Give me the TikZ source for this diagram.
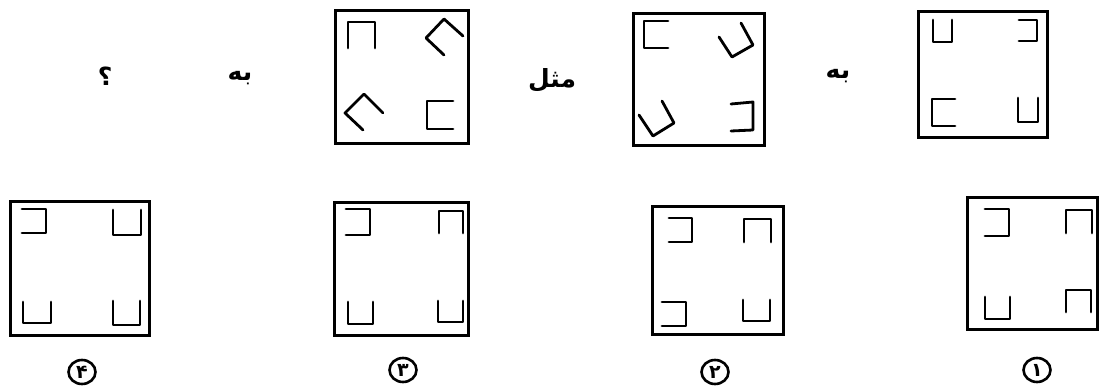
\documentclass[tikz,border=0pt]{standalone}
\usepackage{fontspec}
\usetikzlibrary{shapes.geometric}
\TeXXeTstate=1
\newfontfamily\arabicfont[Script=Arabic]{DejaVu Sans}
\newcommand{\shU}[4]{\draw[glyph] (#1,#2) -- (#1,#4) -- (#3,#4) -- (#3,#2);}
\newcommand{\shN}[4]{\draw[glyph] (#1,#4) -- (#1,#2) -- (#3,#2) -- (#3,#4);}
\newcommand{\shC}[4]{\draw[glyph] (#3,#2) -- (#1,#2) -- (#1,#4) -- (#3,#4);}
\newcommand{\shD}[4]{\draw[glyph] (#1,#2) -- (#3,#2) -- (#3,#4) -- (#1,#4);}
\tikzset{
  frame/.style={draw=black, line width=3pt},
  glyph/.style={draw=black, line width=2.8pt, line cap=round, line join=round},
  word/.style={font=\arabicfont\bfseries\fontsize{25}{28}\selectfont, inner sep=0pt},
  numcirc/.style={draw=black, line width=2.6pt, ellipse, minimum width=27pt, minimum height=24pt, inner sep=0pt, font=\arabicfont\bfseries\fontsize{19}{20}\selectfont}
}
\begin{document}
\begin{tikzpicture}[x=1pt,y=-1pt]
\useasboundingbox (0,0) rectangle (1100,387);
% ---- top row ----
% box A
\draw[frame] (918,12) rectangle (1047,138);
\shU{933}{20}{952}{42}
\shD{1019}{20}{1037}{41}
\shC{932}{99}{955}{126}
\shU{1018}{98}{1038}{122}
\node[word] (w1) at (838,76) {\beginR به\endR};
% box B
\draw[frame] (633,14) rectangle (764,146);
\shC{644}{21}{668}{48}
\draw[glyph] (719,37) -- (732,57) -- (753,45) -- (741,23);
\draw[glyph] (639,115) -- (653,136) -- (674,123) -- (662,101);
\draw[glyph] (731,104) -- (753,102) -- (753,130) -- (731,131);
\node[word] (w2) at (552,80) {\beginR مثل\endR};
% box C
\draw[frame] (335,11) rectangle (468,144);
\shN{348}{22}{375}{48}
\draw[glyph] (463,36) -- (444,19) -- (426,38) -- (444,55);
\draw[glyph] (383,113) -- (364,94) -- (345,113) -- (363,130);
\shC{427}{101}{453}{129}
\node[word] (w3) at (240,78) {\beginR به\endR};
\node[word] (w4) at (105,76) {؟};
% ---- bottom row ----
% option 1
\draw[frame] (967,198) rectangle (1097,329);
\shD{985}{209}{1009}{236}
\shN{1066}{210}{1092}{233}
\shU{985}{297}{1010}{319}
\shN{1066}{290}{1091}{312}
\node[numcirc] (c1) at (1037,370) {۱};
% option 2
\draw[frame] (652,207) rectangle (783,334);
\shD{669}{218}{692}{242}
\shN{744}{219}{771}{242}
\shD{662}{302}{686}{326}
\shU{743}{300}{770}{321}
\node[numcirc] (c2) at (715,372) {۲};
% option 3
\draw[frame] (334,203) rectangle (468,335);
\shD{346}{209}{370}{235}
\shN{439}{211}{463}{233}
\shU{348}{302}{373}{324}
\shU{438}{301}{463}{322}
\node[numcirc] (c3) at (403,370) {۳};
% option 4
\draw[frame] (10,202) rectangle (149,335);
\shD{22}{209}{46}{233}
\shU{113}{210}{141}{235}
\shU{23}{302}{51}{323}
\shU{113}{301}{140}{325}
\node[numcirc] (c4) at (82,372) {۴};
\end{tikzpicture}
\end{document}
